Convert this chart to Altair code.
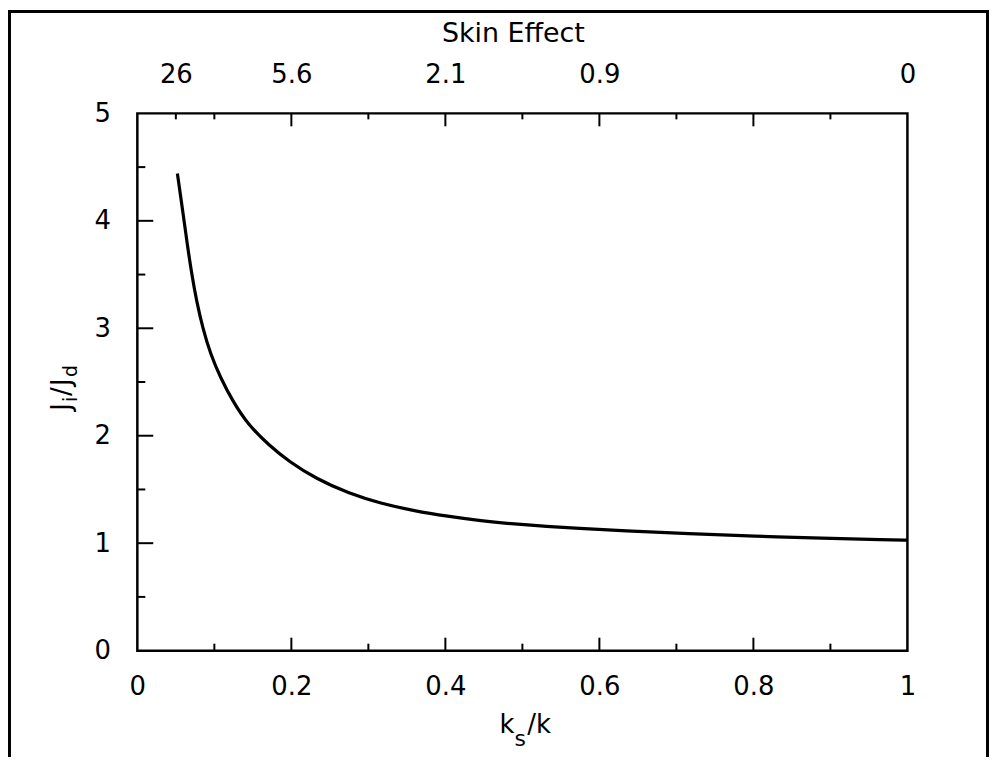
import altair as alt
import pandas as pd

# ---- data ----
ks_k = [0.052, 0.059, 0.065, 0.071, 0.077, 0.085, 0.095, 0.108, 0.124, 0.143,
        0.171, 0.197, 0.232, 0.274, 0.316, 0.360, 0.403, 0.446, 0.490, 0.532,
        0.571, 0.631, 0.716, 0.802, 0.889, 0.974, 1.0]
ji_jd = [4.44, 4.09, 3.77, 3.49, 3.25, 3.00, 2.76, 2.54, 2.32, 2.11,
         1.91, 1.76, 1.60, 1.465, 1.37, 1.30, 1.25, 1.208, 1.178, 1.155,
         1.14, 1.115, 1.088, 1.066, 1.046, 1.032, 1.028]

x_labels = [0, 0.2, 0.4, 0.6, 0.8, 1]
y_labels = [0, 1, 2, 3, 4, 5]
skin_pos = [0.05, 0.2, 0.4, 0.6, 1.0]
skin_txt = ["26", "5.6", "2.1", "0.9", "0"]

bottom_major = [0.2, 0.4, 0.6, 0.8]
bottom_minor = [0.1, 0.3, 0.5, 0.7, 0.9]
top_major = [0.2, 0.4, 0.6, 0.8]
top_minor = [0.05, 0.1, 0.3, 0.5, 0.7, 0.9]
left_major = [1, 2, 3, 4]
left_minor = [0.5, 1.5, 2.5, 3.5, 4.5]

FONT = "DejaVu Sans"
W, H = 774, 540
PAD_L, PAD_T = 130, 104
TOTAL_W, TOTAL_H = 986, 751

xs = alt.Scale(domain=[0, 1], nice=False, zero=False)
ys = alt.Scale(domain=[0, 5], nice=False, zero=False)

curve_df = pd.DataFrame({"ks_k": ks_k, "ratio": ji_jd})

curve = alt.Chart(curve_df).mark_line(
    color="black", strokeWidth=3.2, interpolate="basis"
).encode(
    x=alt.X("ks_k:Q", scale=xs, axis=alt.Axis(
        values=x_labels, format="~g", tickSize=0, domain=False, grid=False,
        labelFont=FONT, labelFontSize=26, labelColor="black",
        labelPadding=44, labelBaseline="alphabetic", labelFlush=False,
        labelOverlap=False, title=None)),
    y=alt.Y("ratio:Q", scale=ys, axis=alt.Axis(
        values=y_labels, format="~g", tickSize=0, domain=False, grid=False,
        labelFont=FONT, labelFontSize=26, labelColor="black",
        labelPadding=27, labelFlush=False, labelOverlap=False, title=None)),
)

def xticks(vals, y0, y1, axis=None):
    df = pd.DataFrame({"v": vals})
    return alt.Chart(df).mark_rule(color="black", strokeWidth=2).encode(
        x=alt.X("v:Q", scale=xs, axis=axis), y=alt.value(y0), y2=alt.value(y1))

def yticks(vals, length):
    df = pd.DataFrame({"v": vals})
    return alt.Chart(df).mark_rule(color="black", strokeWidth=2).encode(
        y=alt.Y("v:Q", scale=ys, axis=None), x=alt.value(0), x2=alt.value(length))

pos_arr = "[" + ",".join(repr(p) for p in skin_pos) + "]"
txt_arr = "[" + ",".join("'" + t + "'" for t in skin_txt) + "]"
top_axis = alt.Axis(
    orient="top", values=skin_pos, labelExpr=f"{txt_arr}[indexof({pos_arr}, datum.value)]",
    tickSize=0, domain=False, grid=False, labelFont=FONT, labelFontSize=26,
    labelColor="black", labelPadding=31, labelBaseline="alphabetic",
    labelFlush=False, labelOverlap=False, title=None)

ticks = [
    xticks(bottom_major, H, H - 13),
    xticks(bottom_minor, H, H - 7),
    xticks(top_major, 0, 13, axis=top_axis),
    xticks(top_minor, 0, 6),
    yticks(left_major, 16),
    yticks(left_minor, 8),
]

def label(text, x, y, size, angle=0, align="left", baseline="alphabetic"):
    kw = dict(text=text, font=FONT, fontSize=size, color="black",
              align=align, baseline=baseline)
    if angle:
        kw["angle"] = angle
    return alt.Chart(pd.DataFrame({"t": [text]})).mark_text(**kw).encode(
        x=alt.value(x), y=alt.value(y))

titles = [
    label("Skin Effect", 378, -72, 27, align="center"),
    # x title  k_s/k
    label("k", 364, 623, 26),
    label("s", 379, 636, 22),
    label("/k", 392, 623, 26),
    # y title  J_i/J_d (rotated)
    label("J", -68, 299, 26, angle=270),
    label("i", -61, 290, 19, angle=270),
    label("/", -68, 284, 26, angle=270),
    label("J", -68, 274, 26, angle=270),
    label("d", -61, 265, 19, angle=270),
]

# outer frame of the figure (left, top, right edges)
frame = [
    alt.Chart(pd.DataFrame({"a": [0]})).mark_rule(color="black", strokeWidth=3).encode(
        x=alt.value(-PAD_L + 1.5), y=alt.value(-PAD_T), y2=alt.value(TOTAL_H - PAD_T)),
    alt.Chart(pd.DataFrame({"a": [0]})).mark_rule(color="black", strokeWidth=3).encode(
        x=alt.value(-PAD_L), x2=alt.value(TOTAL_W - PAD_L), y=alt.value(-PAD_T + 1.5)),
    alt.Chart(pd.DataFrame({"a": [0]})).mark_rule(color="black", strokeWidth=3).encode(
        x=alt.value(TOTAL_W - PAD_L - 1.5), y=alt.value(-PAD_T), y2=alt.value(TOTAL_H - PAD_T)),
]

chart = alt.layer(curve, *ticks, *titles, *frame).resolve_axis(
    x="independent", y="independent"
).properties(
    width=W, height=H,
    autosize=alt.AutoSizeParams(type="none"),
    padding={"left": PAD_L, "top": PAD_T, "right": TOTAL_W - PAD_L - W,
             "bottom": TOTAL_H - PAD_T - H},
    background="white",
).configure_view(stroke="black", strokeWidth=2.5)

chart.save("out.html", embed_options={"renderer": "svg", "actions": False})
